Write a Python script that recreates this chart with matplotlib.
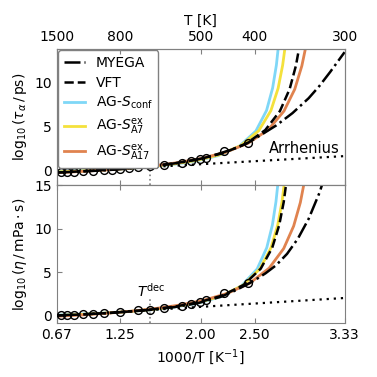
import matplotlib
matplotlib.use('Agg')
import matplotlib.pyplot as plt

# measured points, 1000/T and log10 values
x_tau = [0.704, 0.757, 0.825, 0.906, 0.999, 1.104, 1.175, 1.252, 1.336, 1.422, 1.531, 1.661, 1.826, 1.909, 1.996, 2.051, 2.212, 2.435]
y_tau = [-0.19, -0.15, -0.11, -0.08, -0.03, 0.08, 0.11, 0.19, 0.26, 0.38, 0.49, 0.69, 0.88, 1.07, 1.29, 1.45, 2.18, 3.13]
x_eta = [0.704, 0.757, 0.825, 0.906, 0.999, 1.104, 1.252, 1.422, 1.531, 1.661, 1.826, 1.909, 1.996, 2.051, 2.212, 2.435]
y_eta = [0.0, 0.02, 0.08, 0.1, 0.15, 0.22, 0.33, 0.58, 0.64, 0.8, 1.03, 1.3, 1.48, 1.8, 2.6, 3.7]

# upper panel fits (tau_alpha)
my_t_x = [0.667, 0.9, 1.134, 1.368, 1.6, 1.83, 2.0, 2.15, 2.3, 2.435, 2.55, 2.7, 2.85, 3.0, 3.1, 3.2, 3.333]
my_t_y = [-0.22, -0.1, 0.05, 0.26, 0.55, 0.95, 1.35, 1.85, 2.45, 3.15, 4.0, 5.15, 6.55, 8.25, 9.65, 11.25, 13.5]
vft_t_x = [0.667, 0.889, 1.111, 1.333, 1.555, 1.776, 1.995, 2.211, 2.417, 2.598, 2.734, 2.824, 2.882, 2.922]
vft_t_y = [-0.22, -0.09, 0.07, 0.27, 0.52, 0.86, 1.33, 2.01, 3.04, 4.62, 6.79, 9.30, 11.96, 14.66]
conf_t_x = [0.667, 0.881, 1.096, 1.310, 1.523, 1.737, 1.949, 2.157, 2.354, 2.511, 2.610, 2.666, 2.701, 2.724]
conf_t_y = [-0.10, -0.01, 0.10, 0.24, 0.43, 0.69, 1.08, 1.69, 2.74, 4.51, 6.86, 9.41, 12.03, 14.66]
a7_t_x = [0.667, 0.884, 1.100, 1.316, 1.533, 1.748, 1.962, 2.172, 2.371, 2.538, 2.650, 2.717, 2.759, 2.788]
a7_t_y = [-0.15, -0.05, 0.08, 0.24, 0.46, 0.75, 1.16, 1.80, 2.85, 4.55, 6.83, 9.38, 12.01, 14.66]
a17_t_x = [0.667, 0.892, 1.117, 1.342, 1.566, 1.790, 2.011, 2.230, 2.439, 2.626, 2.771, 2.871, 2.937, 2.983]
a17_t_y = [-0.25, -0.10, 0.07, 0.28, 0.55, 0.91, 1.40, 2.09, 3.12, 4.66, 6.78, 9.27, 11.94, 14.66]

# lower panel fits (viscosity)
my_e_x = [0.667, 0.885, 1.104, 1.322, 1.54, 1.757, 1.972, 2.183, 2.3, 2.435, 2.5, 2.6, 2.7, 2.8, 2.9, 3.0, 3.1, 3.2]
my_e_y = [-0.02, 0.1, 0.23, 0.41, 0.64, 0.95, 1.4, 2.13, 2.75, 3.6, 4.05, 4.85, 5.8, 7.1, 8.85, 11.15, 14.15, 18.0]
vft_e_x = [0.667, 0.888, 1.109, 1.330, 1.550, 1.770, 1.988, 2.200, 2.397, 2.556, 2.662, 2.727, 2.769, 2.798]
vft_e_y = [-0.03, 0.09, 0.24, 0.43, 0.68, 1.03, 1.52, 2.28, 3.51, 5.39, 7.79, 10.41, 13.09, 15.81]
conf_e_x = [0.667, 0.885, 1.104, 1.322, 1.540, 1.757, 1.972, 2.183, 2.376, 2.523, 2.612, 2.664, 2.697, 2.720]
conf_e_y = [0.03, 0.14, 0.26, 0.43, 0.64, 0.95, 1.40, 2.13, 3.38, 5.36, 7.82, 10.44, 13.12, 15.80]
a7_e_x = [0.667, 0.888, 1.108, 1.328, 1.548, 1.767, 1.984, 2.196, 2.392, 2.549, 2.651, 2.713, 2.753, 2.780]
a7_e_y = [-0.02, 0.10, 0.25, 0.43, 0.67, 1.01, 1.49, 2.25, 3.48, 5.38, 7.80, 10.41, 13.10, 15.81]
a17_e_x = [0.667, 0.895, 1.123, 1.351, 1.578, 1.804, 2.028, 2.247, 2.454, 2.634, 2.769, 2.861, 2.923, 2.966]
a17_e_y = [-0.12, 0.04, 0.23, 0.47, 0.78, 1.18, 1.74, 2.53, 3.72, 5.45, 7.72, 10.31, 13.03, 15.80]

# Arrhenius lines
arr_x = [0.667, 3.333]
arr_t_y = [-0.2, 1.65]
arr_e_y = [-0.05, 2.0]

x_dec = 1.531
top_T = [1500, 800, 500, 400, 300]
bottom_ticks = [0.667, 1.25, 2.0, 2.5, 3.333]
bottom_labels = ['0.67', '1.25', '2.00', '2.50', '3.33']

c_conf, c_a7, c_a17 = '#7fd7f7', '#f4e13c', '#e0834f'
gray = '#808080'

fig = plt.figure(figsize=(3.77, 3.77), dpi=100)
ax1 = fig.add_axes([0.151, 0.508, 0.763, 0.362])
ax2 = fig.add_axes([0.151, 0.143, 0.763, 0.365])

panels = [
    (ax1, (my_t_x, my_t_y), (vft_t_x, vft_t_y), (conf_t_x, conf_t_y), (a7_t_x, a7_t_y), (a17_t_x, a17_t_y), x_tau, y_tau),
    (ax2, (my_e_x, my_e_y), (vft_e_x, vft_e_y), (conf_e_x, conf_e_y), (a7_e_x, a7_e_y), (a17_e_x, a17_e_y), x_eta, y_eta),
]
for ax, my, vft, conf, a7, a17, xd, yd in panels:
    ax.plot(*my, color='black', ls='-.', lw=1.8, label='MYEGA', zorder=3)
    ax.plot(*vft, color='black', ls='--', lw=1.8, label='VFT', zorder=3)
    ax.plot(*conf, color=c_conf, lw=2, label=r'AG-$S_{\rm conf}$', zorder=2)
    ax.plot(*a7, color=c_a7, lw=2, label=r'AG-$S^{\rm ex}_{\rm A7}$', zorder=2)
    ax.plot(*a17, color=c_a17, lw=2, label=r'AG-$S^{\rm ex}_{\rm A17}$', zorder=2)
    ax.plot(xd, yd, 'o', mfc='none', mec='black', ms=5.6, mew=1.0, zorder=5)
    ax.set_xlim(0.667, 3.333)
    ax.set_xticks(bottom_ticks)
    ax.tick_params(direction='in', color=gray, labelsize=10, top=True)
    for sp in ax.spines.values():
        sp.set_color(gray)

ax1.plot(arr_x, arr_t_y, color='black', ls=(0, (1, 2.2)), lw=1.6)
ax2.plot(arr_x, arr_e_y, color='black', ls=(0, (1, 2.2)), lw=1.6)
ax1.plot([x_dec, x_dec], [-1.7, 0.3], color=gray, ls=':', lw=1.2)
ax2.plot([x_dec, x_dec], [-0.9, 1.9], color=gray, ls=':', lw=1.2)

ax1.set_ylim(-1.7, 13.86)
ax1.set_yticks([0, 5, 10])
ax1.set_xticklabels([])
ax2.set_ylim(-0.9, 15)
ax2.set_yticks([0, 5, 10, 15])
ax2.set_xticklabels(bottom_labels)
ax2.set_xlabel(r'1000/T [K$^{-1}$]', fontsize=10)
ax1.set_ylabel(r'$\log_{10}(\tau_\alpha\,/\,\mathrm{ps})$', fontsize=10)
ax2.set_ylabel(r'$\log_{10}(\eta\,/\,\mathrm{mPa\cdot s})$', fontsize=10)
ax1.text(3.29, 1.95, 'Arrhenius', ha='right', va='baseline', fontsize=10.5)
ax2.text(1.54, 2.2, r'$T^{\rm dec}$', ha='center', va='baseline', fontsize=10)

# temperature scale on top
axt = ax1.twiny()
axt.set_xlim(0.667, 3.333)
axt.set_xticks([1000 / t for t in top_T])
axt.set_xticklabels([str(t) for t in top_T])
axt.tick_params(direction='in', color=gray, labelsize=10)
axt.set_xlabel('T [K]', fontsize=10)
for sp in axt.spines.values():
    sp.set_color(gray)

ax1.legend(loc='upper left', fontsize=10, handlelength=1.5, borderaxespad=0.1, labelspacing=0.4,
           edgecolor=gray, framealpha=1)

fig.savefig('out.png', dpi=100)
